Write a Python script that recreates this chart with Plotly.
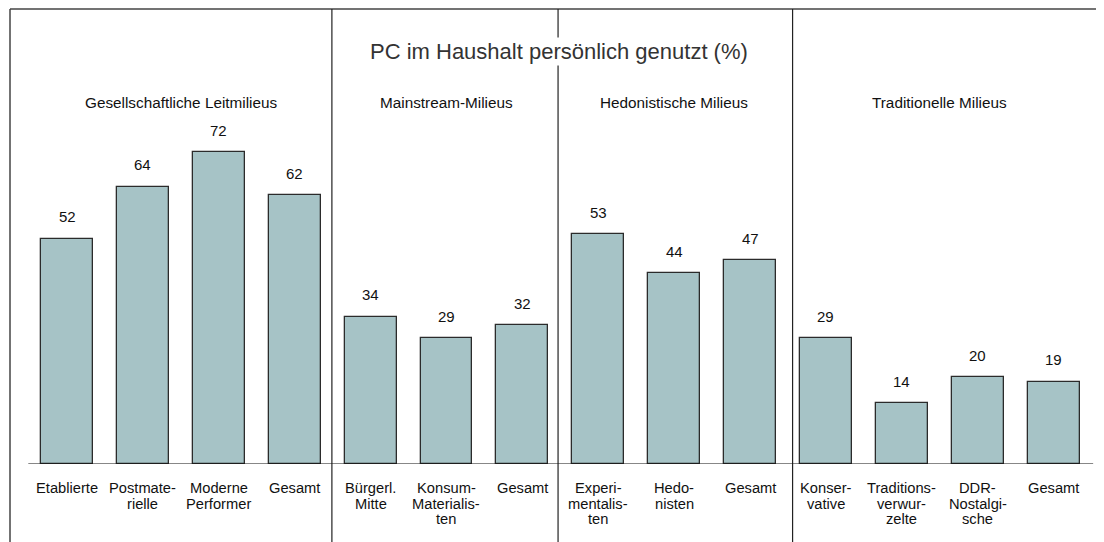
import plotly.graph_objects as go

# ---- data ----
title_text = "PC im Haushalt persönlich genutzt (%)"
groups = ["Gesellschaftliche Leitmilieus", "Mainstream-Milieus",
          "Hedonistische Milieus", "Traditionelle Milieus"]
group_sizes = [4, 3, 3, 4]
categories = ["Etablierte", "Postmate-<br>rielle", "Moderne<br>Performer", "Gesamt",
              "Bürgerl.<br>Mitte", "Konsum-<br>Materialis-<br>ten", "Gesamt",
              "Experi-<br>mentalis-<br>ten", "Hedo-<br>nisten", "Gesamt",
              "Konser-<br>vative", "Traditions-<br>verwur-<br>zelte",
              "DDR-<br>Nostalgi-<br>sche", "Gesamt"]
values = [52, 64, 72, 62, 34, 29, 32, 53, 44, 47, 29, 14, 20, 19]

# ---- style ----
FONT = "Arial, Liberation Sans, Helvetica, sans-serif"
BAR_FILL = "#a6c3c6"
EDGE = "#2b2b2b"
FRAME = "#444444"
sep_x = [3.49, 6.47, 9.56]
LINE_STEP = 15.5

xs = list(range(len(values)))

fig = go.Figure()
fig.add_trace(go.Bar(
    x=xs, y=values, width=0.685,
    marker=dict(color=BAR_FILL, line=dict(color=EDGE, width=1.3)),
    hoverinfo="skip", showlegend=False,
))

annotations = []
# value labels
for x, v in zip(xs, values):
    annotations.append(dict(x=x, y=v, xref="x", yref="y", text=str(v),
                            showarrow=False, yanchor="middle", yshift=22,
                            font=dict(family=FONT, size=15, color="#111")))
# category labels (one annotation per line for tight line spacing)
for x, c in zip(xs, categories):
    for k, line in enumerate(c.split("<br>")):
        annotations.append(dict(x=x, y=0, xref="x", yref="y", text=line,
                                showarrow=False, yanchor="middle",
                                yshift=-24 - LINE_STEP * k,
                                font=dict(family=FONT, size=14.7, color="#111")))
# group labels
start = 0
for g, n in zip(groups, group_sizes):
    mid = start + (n - 1) / 2
    annotations.append(dict(x=mid, y=0.7956, xref="x", yref="paper", text=g,
                            showarrow=False, yanchor="middle",
                            font=dict(family=FONT, size=15.3, color="#111")))
    start += n
# title
annotations.append(dict(x=0.502, y=0.9055, xref="paper", yref="paper",
                        text=title_text, showarrow=False, yanchor="middle",
                        bgcolor="white",
                        font=dict(family=FONT, size=22, color="#333")))

shapes = []
# frame: left and top
shapes.append(dict(type="line", xref="paper", yref="paper", x0=0, x1=0, y0=-0.3, y1=1,
                   line=dict(color=FRAME, width=1.5)))
shapes.append(dict(type="line", xref="paper", yref="paper", x0=0, x1=1.02, y0=1, y1=1,
                   line=dict(color=FRAME, width=1.5)))
# group separators
for sx in sep_x:
    shapes.append(dict(type="line", xref="x", yref="paper", x0=sx, x1=sx, y0=-0.3, y1=1,
                       line=dict(color="#222", width=1.2)))
# baseline
shapes.append(dict(type="line", xref="x", yref="y", x0=-0.51, x1=13.52, y0=0, y1=0,
                   line=dict(color="#111", width=1.2)))

fig.update_layout(
    width=1104, height=542,
    margin=dict(l=2, r=8, t=1, b=86),
    paper_bgcolor="white", plot_bgcolor="white",
    xaxis=dict(range=[-0.751, 13.663], visible=False, fixedrange=True),
    yaxis=dict(range=[0, 105.0], visible=False, fixedrange=True),
    annotations=annotations, shapes=shapes,
    bargap=0, showlegend=False,
)

fig.write_html("out.html")
